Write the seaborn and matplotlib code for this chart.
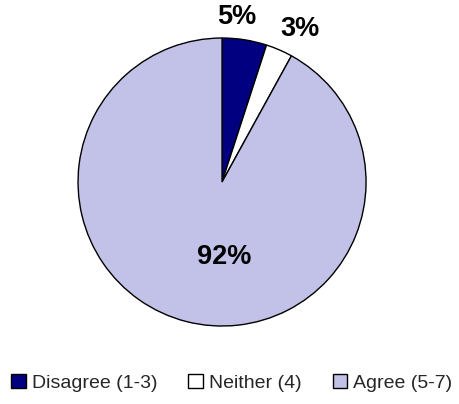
import numpy as np
import seaborn as sns
import matplotlib.pyplot as plt

# data
labels = ['Disagree (1-3)', 'Neither (4)', 'Agree (5-7)']
values = [5, 3, 92]
pct_text = ['5%', '3%', '92%']
colors = ['#000080', '#FFFFFF', '#C2C2E8']

sns.set_theme(style='white')
plt.rcParams['font.family'] = ['Liberation Sans', 'DejaVu Sans']

fig = plt.figure(figsize=(4.59, 4.04), dpi=100)
ax = fig.add_axes([0.170, 0.193, 0.6275, 0.7129])

wedges, _ = ax.pie(values, colors=colors, startangle=90, counterclock=False,
                   wedgeprops=dict(edgecolor='black', linewidth=1.0))
ax.set_xlim(-1, 1)
ax.set_ylim(-1, 1)
ax.set_aspect('auto')

# label positions (radius, angle in degrees)
lab_pos = [(1.15, 85), (1.19, 63), (0.52, -88)]
for t, (r, a) in zip(pct_text, lab_pos):
    ax.text(r * np.cos(np.radians(a)), r * np.sin(np.radians(a)), t,
            ha='center', va='center', fontsize=19.5, fontweight='bold', color='black')

fig.legend(wedges, labels, loc='center', bbox_to_anchor=(0.505, 0.052), ncol=3,
           frameon=False, handlelength=0.75, handleheight=0.75, handletextpad=0.3,
           columnspacing=1.6, prop={'family': 'Liberation Sans', 'size': 14})

fig.savefig('out.png', dpi=100)
